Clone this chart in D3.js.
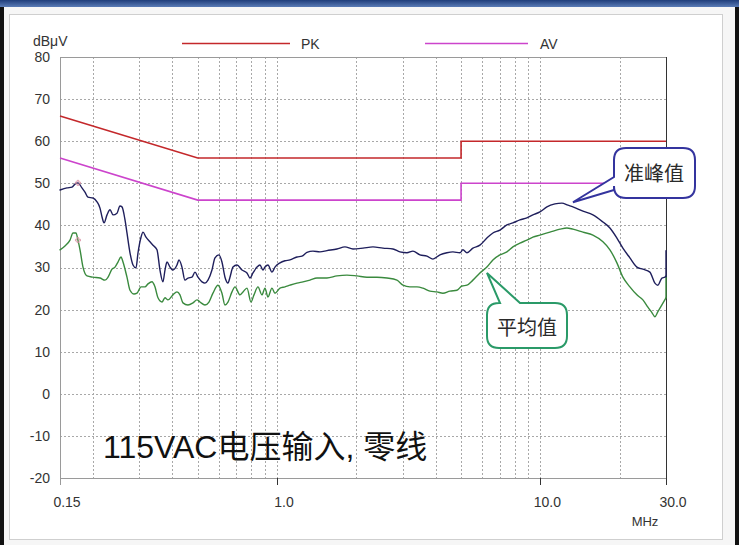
<!DOCTYPE html>
<html>
<head>
<meta charset="utf-8">
<script src="https://cdn.jsdelivr.net/npm/d3@7"></script>
<style>
  body { margin: 0; background: #ffffff; }
  svg { display: block; }
</style>
</head>
<body>
<svg id="chart" width="739" height="545"></svg>
<script>
// ---- Conducted emission scan, neutral line, 115 VAC input ----
const yTickValues = [-20, -10, 0, 10, 20, 30, 40, 50, 60, 70, 80];
const xTickValues = [0.15, 1, 10, 30];
const xTickLabels = ["0.15", "1.0", "10.0", "30.0"];
const xGridValues = [0.2, 0.3, 0.4, 0.5, 0.6, 0.7, 0.8, 0.9, 1, 2, 3, 4, 5, 6, 7, 8, 9, 10, 20];

// Limit lines (MHz, dBµV)
const limitFreq = [0.15, 0.5, 5, 5, 30];
const pkLimit = [66, 56, 56, 60, 60];
const avLimit = [56, 46, 46, 50, 50];

// Quasi-peak trace (last point is the riser at the stop frequency)
const qpFreq = [0.150, 0.1594, 0.1666, 0.1710, 0.1755, 0.1818, 0.1866, 0.1915, 0.2001, 0.2073,
  0.2128, 0.2166, 0.2204, 0.2263, 0.2323, 0.2384, 0.2469, 0.2534, 0.2579, 0.2648,
  0.2694, 0.2766, 0.2840, 0.2915, 0.2967, 0.3046, 0.3099, 0.3181, 0.3294, 0.3382,
  0.3502, 0.3595, 0.3690, 0.3756, 0.3822, 0.3924, 0.4027, 0.4171, 0.4245, 0.4357,
  0.4473, 0.4592, 0.4755, 0.4882, 0.5012, 0.5190, 0.5328, 0.5470, 0.5664, 0.5815,
  0.6021, 0.6181, 0.6346, 0.6515, 0.6630, 0.6806, 0.7049, 0.7364, 0.7693, 0.7897,
  0.8107, 0.8395, 0.8617, 0.8846, 0.9003, 0.9242, 0.9571, 0.9825, 1.0264, 1.0723,
  1.1202, 1.1910, 1.2442, 1.2998, 1.3698, 1.4562, 1.5478, 1.6892, 1.8116, 1.9430,
  2.1206, 2.3145, 2.5261, 2.7569, 2.9306, 3.1154, 3.2830, 3.4898, 3.7100, 3.9097,
  4.1562, 4.4183, 4.6564, 4.9500, 5.0817, 5.2625, 5.5461, 5.8958, 6.2675, 6.6053,
  7.0222, 7.4648, 7.8665, 8.3627, 8.8897, 9.3688, 9.9635, 10.592, 11.359, 12.077,
  12.727, 13.296, 14.510, 15.836, 17.285, 18.373, 19.530, 20.581, 21.878, 23.260,
  24.512, 26.060, 27.225, 27.948, 28.942, 29.711, 30.0, 30.0];
const qpLevel = [48.4, 48.9, 49.1, 49.8, 50.1, 48.9, 47.9, 46.7, 46.5, 45.6,
  44.1, 42.0, 40.6, 42.5, 43.7, 42.5, 42.9, 44.6, 44.4, 41.3,
  38.2, 33.5, 30.6, 29.9, 33.5, 37.2, 38.4, 37.2, 36.1, 35.3,
  34.2, 29.4, 26.6, 29.4, 31.3, 30.1, 29.4, 30.6, 31.8, 30.1,
  27.0, 27.5, 27.7, 28.9, 27.7, 26.6, 26.3, 27.0, 29.4, 32.3,
  33.0, 31.3, 27.7, 26.3, 27.7, 30.1, 30.6, 29.4, 28.7, 27.5,
  28.7, 30.1, 30.6, 29.4, 30.1, 30.6, 28.9, 30.1, 31.1, 31.6,
  31.8, 32.5, 32.7, 33.6, 33.9, 33.7, 34.0, 34.4, 34.9, 34.4,
  34.6, 34.9, 34.6, 34.4, 33.7, 33.5, 33.9, 33.0, 32.7, 32.0,
  33.0, 33.5, 33.7, 33.5, 34.2, 33.5, 34.6, 35.3, 37.0, 38.2,
  38.9, 40.1, 40.6, 41.3, 41.8, 42.5, 43.2, 44.4, 45.1, 45.3,
  44.8, 44.4, 43.4, 42.5, 40.8, 39.4, 37.0, 34.6, 32.3, 30.1,
  29.6, 28.9, 26.3, 25.8, 27.5, 27.7, 27.9, 34.0];

// Average trace (last point is the riser at the stop frequency)
const avFreq = [0.150, 0.1567, 0.1637, 0.1681, 0.1725, 0.1755, 0.1787, 0.1834, 0.1899, 0.2001,
  0.2128, 0.2223, 0.2283, 0.2363, 0.2426, 0.2490, 0.2557, 0.2602, 0.2694, 0.2766,
  0.2865, 0.2941, 0.3046, 0.3153, 0.3237, 0.3352, 0.3441, 0.3533, 0.3659, 0.3756,
  0.3855, 0.4027, 0.4171, 0.4282, 0.4395, 0.4592, 0.4798, 0.4969, 0.5101, 0.5328,
  0.5518, 0.5713, 0.5969, 0.6181, 0.6346, 0.6515, 0.6747, 0.6927, 0.7236, 0.7428,
  0.7693, 0.7967, 0.8178, 0.8468, 0.8769, 0.9003, 0.9242, 0.9571, 0.9825, 1.0264,
  1.0723, 1.1202, 1.1910, 1.2551, 1.3343, 1.4185, 1.5478, 1.6892, 1.8436, 2.0120,
  2.1961, 2.3968, 2.6160, 2.8547, 3.0084, 3.1981, 3.4001, 3.5831, 3.8086, 4.0487,
  4.2665, 4.5357, 4.8218, 5.0375, 5.2625, 5.5461, 5.8958, 6.2675, 6.6053, 7.0222,
  7.4648, 7.8665, 8.3627, 8.8897, 9.3688, 9.9635, 10.874, 11.867, 12.616, 13.296,
  14.510, 15.836, 17.285, 18.373, 19.530, 20.581, 21.878, 23.260, 24.512, 25.609,
  26.526, 27.225, 27.948, 28.942, 30.0, 30.0];
const avLevel = [34.2, 35.1, 36.5, 38.2, 38.2, 36.5, 34.2, 30.1, 28.0, 27.7,
  27.5, 27.0, 27.7, 29.6, 30.1, 31.3, 32.5, 31.3, 27.7, 24.6,
  23.7, 23.9, 25.4, 25.4, 26.1, 26.6, 25.4, 22.8, 21.8, 22.8,
  22.3, 23.5, 24.2, 23.5, 21.6, 21.1, 21.6, 22.3, 21.8, 21.1,
  21.8, 23.9, 25.8, 23.9, 21.1, 21.8, 24.2, 25.4, 23.5, 24.2,
  25.1, 21.8, 23.5, 25.4, 23.5, 25.1, 23.0, 25.1, 23.9, 25.1,
  25.4, 25.8, 26.3, 26.6, 27.0, 27.5, 27.5, 28.0, 28.2, 28.0,
  27.7, 27.7, 27.5, 27.0, 25.8, 25.4, 25.4, 25.1, 24.4, 24.2,
  23.9, 24.4, 24.6, 25.6, 25.8, 27.0, 28.7, 30.1, 31.8, 33.0,
  33.7, 34.9, 35.8, 36.5, 37.2, 37.7, 38.4, 39.1, 39.4, 39.1,
  38.4, 37.7, 36.1, 34.2, 31.1, 27.7, 25.4, 23.5, 22.3, 20.6,
  19.3, 18.3, 19.5, 21.1, 22.8, 28.0];

// Markers on the first peak of each trace
const markerFreq = [0.1755, 0.1755];
const markerLevel = [50.1, 36.5];

// ---- Layout ----
const svg = d3.select("#chart");
const W = 739, H = 545;
const plot = { left: 60, right: 666, top: 57, bottom: 478 };

const x = d3.scaleLog().domain([0.15, 30]).range([plot.left, plot.right]);
const y = d3.scaleLinear().domain([-20, 80]).range([plot.bottom, plot.top]);

const latin = "'Liberation Sans', Arial, 'Noto Sans CJK SC', sans-serif";
const cjk = "'Noto Sans CJK SC', 'Noto Sans CJK TC', sans-serif";

// ---- Page frame ----
const defs = svg.append("defs");
const hdr = defs.append("linearGradient").attr("id", "hdr").attr("x1", 0).attr("y1", 0).attr("x2", 0).attr("y2", 1);
hdr.append("stop").attr("offset", "0%").attr("stop-color", "#1f3d7a");
hdr.append("stop").attr("offset", "100%").attr("stop-color", "#5a7bb6");

svg.append("rect").attr("width", W).attr("height", H).attr("fill", "#f6f6f6");
svg.append("rect").attr("x", 0).attr("y", 0).attr("width", 4).attr("height", H).attr("fill", "#111");
svg.append("rect").attr("x", 735).attr("y", 0).attr("width", 4).attr("height", H).attr("fill", "#111");
svg.append("rect").attr("x", 9.5).attr("y", 14.5).attr("width", 713).attr("height", 525)
  .attr("fill", "#ffffff").attr("stroke", "#cfcfcf").attr("stroke-width", 1);
svg.append("rect").attr("x", 0).attr("y", 0).attr("width", W).attr("height", 7).attr("fill", "url(#hdr)");

// ---- Grid ----
const grid = svg.append("g").attr("stroke", "#a8a8a8").attr("stroke-width", 1).attr("stroke-dasharray", "2,2");
grid.selectAll("line.v").data(xGridValues).join("line")
  .attr("x1", d => Math.round(x(d)) + 0.5).attr("x2", d => Math.round(x(d)) + 0.5)
  .attr("y1", plot.top).attr("y2", plot.bottom);
grid.selectAll("line.h").data(yTickValues.filter(v => v > -20 && v < 80)).join("line")
  .attr("x1", plot.left).attr("x2", plot.right)
  .attr("y1", d => Math.round(y(d)) + 0.5).attr("y2", d => Math.round(y(d)) + 0.5);

// ---- Frame lines ----
svg.append("line").attr("x1", plot.left).attr("x2", plot.right).attr("y1", plot.top + 0.5).attr("y2", plot.top + 0.5)
  .attr("stroke", "#9a9a9a");
svg.append("line").attr("x1", plot.left + 0.5).attr("x2", plot.left + 0.5).attr("y1", plot.top).attr("y2", plot.bottom)
  .attr("stroke", "#9a9a9a");
svg.append("line").attr("x1", plot.left).attr("x2", plot.right).attr("y1", plot.bottom + 0.5).attr("y2", plot.bottom + 0.5)
  .attr("stroke", "#9a9a9a");
svg.append("line").attr("x1", plot.right + 0.5).attr("x2", plot.right + 0.5).attr("y1", plot.top).attr("y2", plot.bottom + 7)
  .attr("stroke", "#333333");

// ---- Axes ----
const yAxis = svg.append("g");
yAxis.selectAll("text").data(yTickValues).join("text")
  .attr("x", 50).attr("y", d => y(d)).attr("dy", "0.35em")
  .attr("text-anchor", "end").attr("font-family", latin).attr("font-size", 14).attr("fill", "#333")
  .text(d => d);

const xAxis = svg.append("g");
xAxis.selectAll("line").data(xTickValues).join("line")
  .attr("x1", d => Math.round(x(d)) + 0.5).attr("x2", d => Math.round(x(d)) + 0.5)
  .attr("y1", plot.bottom).attr("y2", plot.bottom + 7)
  .attr("stroke", (d, i) => i === 0 ? "#9a9a9a" : "#333");
xAxis.selectAll("text").data(xTickValues).join("text")
  .attr("x", d => x(d) + 7).attr("y", 507)
  .attr("text-anchor", "middle").attr("font-family", latin).attr("font-size", 14).attr("fill", "#333")
  .text((d, i) => xTickLabels[i]);

svg.append("text").attr("x", 645).attr("y", 526).attr("text-anchor", "middle")
  .attr("font-family", latin).attr("font-size", 13).attr("fill", "#333").text("MHz");
svg.append("text").attr("x", 33).attr("y", 46)
  .attr("font-family", latin).attr("font-size", 14).attr("fill", "#333").text("dBμV");

// ---- Legend ----
const legend = [
  { label: "PK", color: "#c4282b", x1: 182, x2: 290, tx: 301 },
  { label: "AV", color: "#cc44cc", x1: 425, x2: 528, tx: 540 }
];
const lg = svg.append("g");
lg.selectAll("line").data(legend).join("line")
  .attr("x1", d => d.x1).attr("x2", d => d.x2).attr("y1", 43.5).attr("y2", 43.5)
  .attr("stroke", d => d.color).attr("stroke-width", 1.5);
lg.selectAll("text").data(legend).join("text")
  .attr("x", d => d.tx).attr("y", 48.5)
  .attr("font-family", latin).attr("font-size", 14).attr("fill", "#333").text(d => d.label);

// ---- Limit lines ----
const lineOf = (fs, vs, curve) => {
  const gen = d3.line().x(d => x(d[0])).y(d => y(d[1]));
  if (curve) gen.curve(curve);
  return gen(fs.map((f, i) => [f, vs[i]]));
};
svg.append("path").attr("d", lineOf(limitFreq, pkLimit))
  .attr("fill", "none").attr("stroke", "#c4282b").attr("stroke-width", 1.6);
svg.append("path").attr("d", lineOf(limitFreq, avLimit))
  .attr("fill", "none").attr("stroke", "#cc44cc").attr("stroke-width", 1.6);

// ---- Measured traces: smooth sweep plus the straight riser at the stop frequency ----
function trace(fs, vs, color) {
  const n = fs.length;
  const g = svg.append("g").attr("fill", "none").attr("stroke", color).attr("stroke-width", 1.4)
    .attr("stroke-linejoin", "round").attr("stroke-linecap", "round");
  g.append("path").attr("d", lineOf(fs.slice(0, n - 1), vs.slice(0, n - 1), d3.curveMonotoneX));
  g.append("path").attr("d", lineOf(fs.slice(n - 2), vs.slice(n - 2)));
}
trace(avFreq, avLevel, "#3a8a3e");
trace(qpFreq, qpLevel, "#1f1f5c");

svg.append("g").selectAll("path").data(markerFreq).join("path")
  .attr("transform", (d, i) => `translate(${x(d)},${y(markerLevel[i])})`)
  .attr("d", d3.symbol(d3.symbolCross, 14)())
  .attr("fill", "none").attr("stroke", "#d88aa0").attr("stroke-width", 0.8);

// ---- Callouts ----
function callout(box, tip, base, color) {
  const { x0, y0, x1, y1, r } = box;
  let p;
  if (base.side === "left") {
    p = `M${x0 + r},${y0} H${x1 - r} Q${x1},${y0} ${x1},${y0 + r} V${y1 - r} Q${x1},${y1} ${x1 - r},${y1}` +
        ` H${x0 + r} Q${x0},${y1} ${x0},${y1 - r} V${base.b} L${tip[0]},${tip[1]} L${x0},${base.a} V${y0 + r} Q${x0},${y0} ${x0 + r},${y0} Z`;
  } else {
    p = `M${x0 + r},${y0} H${base.a} L${tip[0]},${tip[1]} L${base.b},${y0} H${x1 - r} Q${x1},${y0} ${x1},${y0 + r}` +
        ` V${y1 - r} Q${x1},${y1} ${x1 - r},${y1} H${x0 + r} Q${x0},${y1} ${x0},${y1 - r} V${y0 + r} Q${x0},${y0} ${x0 + r},${y0} Z`;
  }
  svg.append("path").attr("d", p).attr("fill", "#ffffff").attr("stroke", color).attr("stroke-width", 2);
}

callout({ x0: 614, y0: 148, x1: 695, y1: 198, r: 12 }, [x(13.3), y(45.5)], { side: "left", a: 177, b: 190 }, "#34349e");
svg.append("text").attr("x", 654).attr("y", 174).attr("dy", "0.35em").attr("text-anchor", "middle")
  .attr("font-family", cjk).attr("font-size", 20).attr("fill", "#2a2a2a").text("准峰值");

callout({ x0: 487, y0: 303, x1: 567, y1: 348, r: 12 }, [x(6.27), y(28.7)], { side: "top", a: 500, b: 520 }, "#2a9a68");
svg.append("text").attr("x", 527).attr("y", 328).attr("dy", "0.35em").attr("text-anchor", "middle")
  .attr("font-family", cjk).attr("font-size", 20).attr("fill", "#2a2a2a").text("平均值");

// ---- Caption ----
svg.append("text").attr("x", 103).attr("y", 458)
  .attr("font-family", latin).attr("font-size", 32).attr("fill", "#111")
  .text("115VAC电压输入, 零线");
</script>
</body>
</html>
